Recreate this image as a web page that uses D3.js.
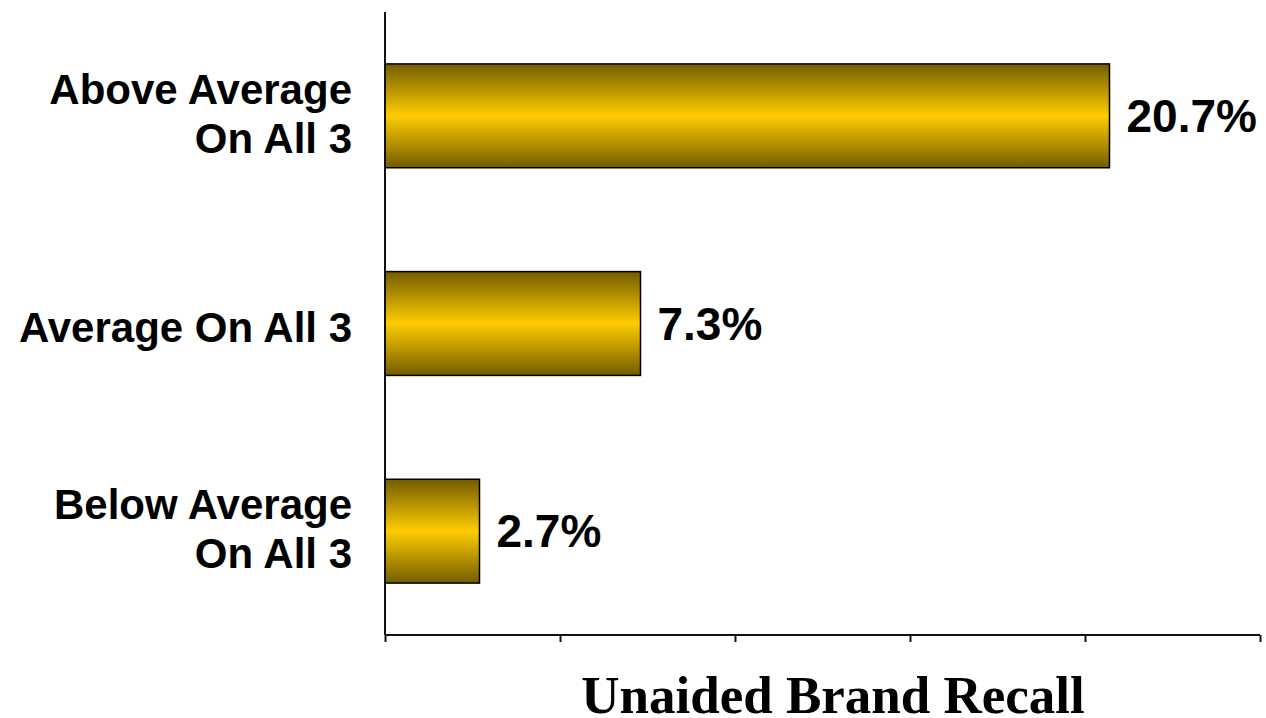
<!DOCTYPE html>
<html><head><meta charset="utf-8">
<script src="https://cdn.jsdelivr.net/npm/d3@7"></script>
<style>body{margin:0;background:#fff;}svg{display:block;}</style>
</head><body>
<svg id="chart" width="1266" height="718"></svg>
<script>
const categories = [["Above Average","On All 3"],["Average On All 3"],["Below Average","On All 3"]];
const values = [20.7, 7.3, 2.7];
const valueLabels = ["20.7%","7.3%","2.7%"];
const xTicks = [0,5,10,15,20,25];
const axisTitle = "Unaided Brand Recall";

(function(){
const svg = d3.select("#chart");
const mLeft = 385, mRight = 1260, mTop = 12, mBottom = 635;
const x = d3.scaleLinear().domain([0,25]).range([mLeft,mRight]);
const y = d3.scaleBand().domain(d3.range(values.length)).range([mTop,mBottom]).paddingInner(0.5).paddingOuter(0.25);

const defs = svg.append("defs");
const g = defs.append("linearGradient").attr("id","gold").attr("x1",0).attr("y1",0).attr("x2",0).attr("y2",1);
g.append("stop").attr("offset","0%").attr("stop-color","#735c00");
g.append("stop").attr("offset","50%").attr("stop-color","#ffcc00");
g.append("stop").attr("offset","100%").attr("stop-color","#735c00");

svg.selectAll("rect.bar").data(values).enter().append("rect")
  .attr("class","bar")
  .attr("x", x(0))
  .attr("y",(d,i)=>y(i))
  .attr("width",d=>x(d)-x(0))
  .attr("height",y.bandwidth())
  .attr("fill","url(#gold)")
  .attr("stroke","#000").attr("stroke-width",1.5);

svg.selectAll("text.val").data(values).enter().append("text")
  .attr("class","val")
  .attr("x",d=>x(d)+17)
  .attr("y",(d,i)=>y(i)+y.bandwidth()/2)
  .attr("dy","0.35em")
  .attr("font-family","'Liberation Sans', Arial, sans-serif")
  .attr("font-weight","bold").attr("font-size",46)
  .text((d,i)=>valueLabels[i]);

const lab = svg.selectAll("text.cat").data(categories).enter().append("text")
  .attr("class","cat")
  .attr("text-anchor","end")
  .attr("font-family","'Liberation Sans', Arial, sans-serif")
  .attr("font-weight","bold").attr("font-size",42);
lab.each(function(lines,i){
  const t = d3.select(this);
  const cy = y(i)+y.bandwidth()/2;
  const lh = 49;
  lines.forEach((l,k)=>{
    t.append("tspan").attr("x",352)
     .attr("y", cy + (k-(lines.length-1)/2)*lh)
     .attr("dy", lines.length > 1 ? "0.3em" : "0.43em").text(l);
  });
});

const xAxis = d3.axisBottom(x).tickValues(xTicks).tickSize(7).tickFormat("");
const ax = svg.append("g").attr("transform",`translate(0,${mBottom})`).call(xAxis);
ax.select(".domain").attr("stroke","#111").attr("stroke-width",2).attr("d",`M${mLeft},0H${mRight}`);
ax.selectAll(".tick line").attr("stroke","#111").attr("stroke-width",2);

svg.append("line").attr("x1",mLeft).attr("x2",mLeft).attr("y1",mTop).attr("y2",mBottom)
  .attr("stroke","#111").attr("stroke-width",2);

svg.append("text").attr("x",833).attr("y",713).attr("text-anchor","middle")
  .attr("font-family","'Liberation Serif', 'Times New Roman', serif")
  .attr("font-weight","bold").attr("font-size",53)
  .text(axisTitle);
})();
</script>
</body></html>
